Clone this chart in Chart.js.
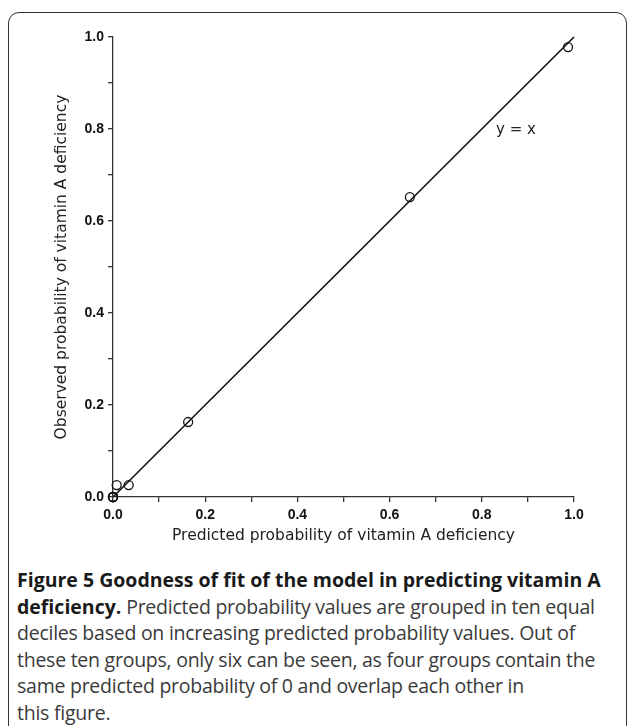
<!DOCTYPE html>
<html>
<head>
<meta charset="utf-8">
<script src="https://cdn.jsdelivr.net/npm/chart.js@4"></script>
<style>
  html, body { margin: 0; padding: 0; background: #fff; }
  body { width: 629px; height: 726px; position: relative; overflow: hidden; }
  #frame { position: absolute; left: 8px; top: 12px; width: 619px; height: 740px;
           border: 1.5px solid #333; border-radius: 11px; box-sizing: border-box; }
  #wrap { position: absolute; left: 0; top: 0; width: 629px; height: 560px; }
  #caption { position: absolute; left: 17px; top: 567px; font-family: "Open Sans", sans-serif;
             font-size: 19.5px; line-height: 26.5px; color: #3a3a3a; letter-spacing: -0.25px; white-space: nowrap; }
  #caption b { color: #1a1a1a; font-weight: 700; letter-spacing: 0; }
</style>
</head>
<body>
<div id="frame"></div>
<div id="wrap"><canvas id="c" width="629" height="560"></canvas></div>
<div id="caption">
  <div><b>Figure 5 Goodness of fit of the model in predicting vitamin A</b></div>
  <div><b>deficiency.</b> Predicted probability values are grouped in ten equal</div>
  <div>deciles based on increasing predicted probability values. Out of</div>
  <div>these ten groups, only six can be seen, as four groups contain the</div>
  <div>same predicted probability of 0 and overlap each other in</div>
  <div>this figure.</div>
</div>
<script>
// ---- data ----
const predicted = [0, 0, 0, 0, 0.008, 0.034, 0.163, 0.644, 0.987];
const observed  = [0, 0, 0, 0, 0.026, 0.026, 0.163, 0.652, 0.978];
const lineX = [0, 1];
const lineY = [0, 1];
const tickValues = [0, 0.1, 0.2, 0.3, 0.4, 0.5, 0.6, 0.7, 0.8, 0.9, 1.0];
const tickLabels = ['0.0', '', '0.2', '', '0.4', '', '0.6', '', '0.8', '', '1.0'];
const lineLabel = 'y = x';
const lineLabelPos = { x: 0.874, y: 0.798 };
const xTitle = 'Predicted probability of vitamin A deficiency';
const yTitle = 'Observed probability of vitamin A deficiency';

const axisColor = '#333';
const tickFont = { family: '"Liberation Sans", Arial, sans-serif', size: 14, weight: 'bold' };
const titleFont = { family: '"DejaVu Sans", sans-serif', size: 15.5 };

const labelPlugin = {
  id: 'lineLabel',
  afterDatasetsDraw(chart) {
    const { ctx, scales } = chart;
    ctx.save();
    ctx.font = '15px "DejaVu Sans", sans-serif';
    ctx.fillStyle = '#222';
    ctx.textAlign = 'center';
    ctx.textBaseline = 'middle';
    ctx.fillText(lineLabel, scales.x.getPixelForValue(lineLabelPos.x), scales.y.getPixelForValue(lineLabelPos.y));
    ctx.restore();
  }
};

function axis(title, fitFn, pad) {
  return {
    type: 'linear', min: 0, max: 1,
    afterBuildTicks: s => { s.ticks = tickValues.map(v => ({ value: v })); },
    afterFit: fitFn,
    ticks: { callback: (v, i) => tickLabels[i], font: tickFont, color: '#111', padding: pad, maxRotation: 0, autoSkip: false },
    grid: { display: true, drawOnChartArea: false, drawTicks: true, tickLength: 5, color: axisColor, lineWidth: 1.3 },
    border: { display: true, color: axisColor, width: 1.3 },
    title: { display: true, text: title, font: titleFont, color: '#222' }
  };
}

const xAxis = axis(xTitle, s => { s.height = 63; }, 5);
xAxis.title.padding = { top: 14.5, bottom: 14.5 };
const yAxis = axis(yTitle, s => { s.width = 113; }, 4);
yAxis.title.padding = { top: 52.5, bottom: 52.5 };

new Chart(document.getElementById('c'), {
  type: 'scatter',
  data: {
    datasets: [
      {
        type: 'line',
        data: lineX.map((x, i) => ({ x, y: lineY[i] })),
        borderColor: '#111', borderWidth: 1.6, pointRadius: 0, fill: false, clip: false
      },
      {
        data: predicted.map((x, i) => ({ x, y: observed[i] })),
        pointStyle: 'circle', pointRadius: 4.5, pointBorderWidth: 1.3,
        pointBackgroundColor: 'rgba(0,0,0,0)', pointBorderColor: '#111', clip: false
      }
    ]
  },
  options: {
    responsive: false, animation: false,
    layout: { padding: { left: 0, right: 55, top: 37, bottom: 0 } },
    plugins: { legend: { display: false }, tooltip: { enabled: false } },
    scales: { x: xAxis, y: yAxis }
  },
  plugins: [labelPlugin]
});
</script>
</body>
</html>
